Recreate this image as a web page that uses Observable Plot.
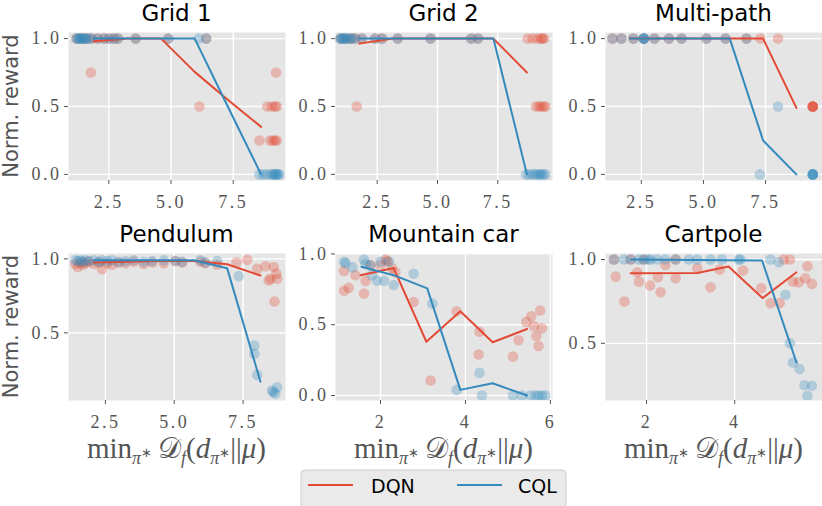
<!DOCTYPE html>
<html><head><meta charset="utf-8">
<script src="https://cdn.jsdelivr.net/npm/d3@7"></script>
<script src="https://cdn.jsdelivr.net/npm/@observablehq/plot@0.6"></script>
<style>
body{margin:0;background:#fff;}
#root{position:relative;width:822px;height:506px;overflow:hidden;background:#fff;}
#overlay{position:absolute;left:0;top:0;pointer-events:none;}
</style></head>
<body><div id="root"></div>
<script>
const RED = "#E24A33", BLUE = "#348ABD";

// ---- Grid 1 ----
const grid1_dqn_pts = [[1.2,1],[1.4,1],[1.6,1],[1.8,1],[2.05,1],[2.31,1],[2.51,1],[2.71,1],[2.87,1],[3.58,1],[4.89,1],[6.41,1],
  [1.78,0.75],[6.14,0.5],[9.22,0.75],[8.87,0.5],[9.05,0.5],[9.18,0.5],[9.25,0.5],[8.55,0.25],[8.98,0.25],[9.09,0.25],[9.18,0.25],[9.25,0.25]];
const grid1_cql_pts = [[1.2,1],[1.25,1],[1.3,1],[1.35,1],[1.4,1],[1.45,1],[1.5,1],[1.55,1],[1.6,1],[1.7,1],[1.8,1],[2.05,1],[2.31,1],[2.51,1],[2.71,1],[2.87,1],[3.58,1],[4.89,1],[6.12,1],[6.41,1],
  [8.55,0],[8.7,0],[8.85,0],[9.0,0],[9.1,0],[9.15,0],[9.2,0],[9.25,0],[9.3,0],[9.35,0]];
const grid1_dqn_line = [[1.9,0.98],[3.25,1],[4.6,1],[5.95,0.755],[7.28,0.55],[8.62,0.35]];
const grid1_cql_line = [[1.9,1],[3.25,1],[4.6,1],[5.95,1],[7.28,0.5],[8.62,0]];

// ---- Grid 2 ----
const grid2_dqn_pts = [[1.0,1],[1.2,1],[1.4,1],[1.58,1],[1.86,1],[2.42,1],[2.70,1],[3.35,1],[4.71,1],[6.40,1],[6.68,1],
  [8.74,1],[8.95,1],[9.15,1],[9.29,1],[9.36,1],[9.42,1],[1.65,0.5],[9.08,0.5],[9.2,0.5],[9.3,0.5],[9.4,0.5],[9.48,0.5]];
const grid2_cql_pts = [[0.96,1],[1.0,1],[1.05,1],[1.1,1],[1.15,1],[1.2,1],[1.3,1],[1.4,1],[1.45,1],[1.58,1],[1.86,1],[2.42,1],[2.70,1],[3.35,1],[4.71,1],[6.40,1],[6.68,1],
  [8.67,0],[8.8,0],[8.95,0],[9.05,0],[9.15,0],[9.25,0],[9.3,0],[9.4,0],[9.48,0]];
const grid2_dqn_line = [[1.76,0.963],[3.15,1],[4.54,1],[5.93,1],[7.32,1],[8.71,0.75]];
const grid2_cql_line = [[1.76,1],[3.15,1],[4.54,1],[5.93,1],[7.32,1],[8.71,0]];

// ---- Multi-path ----
const multi_dqn_pts = [[1.34,1],[1.70,1],[2.18,1],[2.6,1],[3.03,1],[3.61,1],[4.12,1],[5.12,1],[5.89,1],[6.73,1],[7.29,1],[8.0,1],
  [9.4,0.5],[9.4,0.5],[9.4,0.5],[9.4,0.5],[9.4,0.5]];
const multi_cql_pts = [[1.34,1],[1.70,1],[2.18,1],[2.6,1],[2.6,1],[2.6,1],[2.6,1],[3.03,1],[3.61,1],[4.12,1],[5.12,1],[5.89,1],[6.73,1],
  [8.0,0.5],[7.27,0],[9.4,0],[9.4,0],[9.4,0],[9.4,0],[9.4,0]];
const multi_dqn_line = [[2.04,1],[3.38,1],[4.72,1],[6.06,1],[7.40,1],[8.74,0.49]];
const multi_cql_line = [[2.04,1],[3.38,1],[4.72,1],[6.06,1],[7.40,0.25],[8.74,0]];

// ---- Pendulum ----
const pend_dqn_pts = [[1.41,0.965],[1.5,0.945],[1.59,0.975],[1.68,0.96],[1.77,0.97],[1.89,0.98],[2.08,0.965],[2.26,0.975],[2.38,0.93],[2.56,0.97],[2.74,0.96],[2.98,0.975],[3.23,0.97],[3.53,0.98],[3.89,0.965],[4.2,0.975],[4.62,0.97],[5.04,0.985],[5.29,0.975],[5.95,0.98],[6.13,0.97],[6.56,0.96],
  [7.26,0.977],[7.65,0.993],[8.01,0.932],[8.31,0.95],[8.61,0.944],[8.49,0.865],[8.74,0.865],[8.43,0.854],[8.64,0.712],[8.71,0.9]];
const pend_cql_pts = [[1.41,0.99],[1.5,0.985],[1.59,0.99],[1.68,0.98],[1.77,0.99],[1.89,0.985],[2.08,0.99],[2.26,0.98],[2.38,0.99],[2.56,0.985],[2.74,0.99],[2.98,0.98],[3.23,0.985],[3.53,0.99],[3.89,0.98],[4.2,0.985],[4.62,0.99],[5.04,0.985],[5.29,0.98],[5.95,0.99],[6.13,0.975],[6.56,0.985],
  [7.34,0.883],[7.91,0.414],[7.91,0.358],[8.01,0.216],[8.55,0.11],[8.67,0.088],[8.74,0.133],[8.6,0.1]];
const pend_dqn_line = [[2.08,0.975],[3.29,0.98],[4.5,0.985],[5.71,0.985],[6.92,0.963],[8.13,0.887]];
const pend_cql_line = [[2.08,0.99],[3.29,0.99],[4.5,0.99],[5.71,0.99],[6.92,0.937],[8.13,0.17]];

// ---- Mountain car ----
const mc_dqn_pts = [[1.14,0.88],[1.14,0.74],[1.25,0.76],[1.41,0.85],[1.61,0.72],[1.65,0.81],[1.76,0.92],[2.0,0.92],[2.12,0.96],[2.16,0.95],[2.27,0.90],[2.35,0.87],[2.78,0.66],[3.18,0.106],[3.79,0.595],[4.33,0.45],[4.31,0.29],[5.12,0.275],[5.25,0.39],[5.43,0.52],[5.55,0.56],[5.61,0.49],[5.67,0.42],[5.72,0.35],[5.76,0.60],[5.80,0.475]];
const mc_cql_pts = [[1.14,0.945],[1.18,0.935],[1.34,0.905],[1.61,0.96],[1.65,0.93],[1.76,0.92],[1.80,0.85],[1.92,0.81],[2.0,0.945],[2.08,0.81],[2.20,0.945],[2.31,0.78],[2.78,0.86],[3.22,0.65],[3.79,0.04],[4.33,0.16],[4.39,0],[5.12,0],[5.33,0],[5.53,0],[5.65,0],[5.72,0],[5.80,0],[5.88,0]];
const mc_dqn_line = [[1.53,0.85],[2.31,0.90],[3.08,0.38],[3.88,0.595],[4.64,0.376],[5.45,0.47]];
const mc_cql_line = [[1.55,0.91],[2.31,0.85],[3.10,0.757],[3.88,0.04],[4.64,0.087],[5.45,0.0]];

// ---- Cartpole ----
const cart_dqn_pts = [[1.26,1],[1.64,1],[1.94,1],[2.66,1],[1.30,0.898],[1.50,0.749],[1.79,0.924],[1.83,0.868],[2.08,0.845],[2.26,0.894],[2.32,0.805],[2.43,0.968],[2.66,0.888],[3.15,0.948],[3.45,0.835],[3.66,0.94],[4.19,0.934],[4.60,0.829],[4.81,0.74],[5.02,0.74],[5.11,1],[5.25,1],[5.32,0.868],[5.45,0.864],[5.60,0.888],[5.65,0.96],[5.75,0.855]];
const cart_cql_pts = [[1.26,1],[1.49,1],[1.64,1],[1.83,1],[1.94,1],[2.03,1],[2.09,1],[2.24,1],[2.43,1],[2.66,1],[2.96,1],[3.15,1],[3.45,1],[3.71,1],[4.09,1],[4.13,1],[4.81,1],[5.0,0.984],[5.15,0.79],[5.25,0.5],[5.32,0.386],[5.47,0.347],[5.58,0.25],[5.75,0.247],[5.65,0.187]];
const cart_dqn_line = [[1.64,0.918],[3.15,0.92],[3.86,0.958],[4.63,0.77],[5.40,0.924]];
const cart_cql_line = [[1.64,1],[4.62,0.994],[5.40,0.386]];

const titles = ["Grid 1","Grid 2","Multi-path","Pendulum","Mountain car","Cartpole"];
const legendLabels = ["DQN","CQL"];

const panels = [
  {title:titles[0], left:68,  top:32,  w:217, h:148, xd:[0.88,9.6],  yd:[-0.045,1.045], xt:[2.5,5,7.5], yt:[0,0.5,1], xf:".1f", dqn:grid1_dqn_pts, cql:grid1_cql_pts, dl:grid1_dqn_line, cl:grid1_cql_line},
  {title:titles[1], left:335, top:32,  w:217, h:148, xd:[0.77,9.77], yd:[-0.045,1.045], xt:[2.5,5,7.5], yt:[0,0.5,1], xf:".1f", dqn:grid2_dqn_pts, cql:grid2_cql_pts, dl:grid2_dqn_line, cl:grid2_cql_line},
  {title:titles[2], left:605, top:32,  w:217, h:148, xd:[1.06,9.79], yd:[-0.045,1.045], xt:[2.5,5,7.5], yt:[0,0.5,1], xf:".1f", dqn:multi_dqn_pts, cql:multi_cql_pts, dl:multi_dqn_line, cl:multi_cql_line},
  {title:titles[3], left:68,  top:253, w:217, h:147, xd:[1.16,9.04], yd:[0.043,1.036],  xt:[2.5,5,7.5], yt:[0.5,1],   xf:".1f", dqn:pend_dqn_pts, cql:pend_cql_pts, dl:pend_dqn_line, cl:pend_cql_line},
  {title:titles[4], left:335, top:253, w:217, h:147, xd:[0.94,6.05], yd:[-0.035,1.003], xt:[2,4,6],     yt:[0,0.5,1], xf:"d",   dqn:mc_dqn_pts, cql:mc_cql_pts, dl:mc_dqn_line, cl:mc_cql_line},
  {title:titles[5], left:605, top:253, w:217, h:147, xd:[1.07,5.99], yd:[0.159,1.036],  xt:[2,4],       yt:[0.5,1],   xf:"d",   dqn:cart_dqn_pts, cql:cart_cql_pts, dl:cart_dqn_line, cl:cart_cql_line},
];

const root = document.getElementById("root");
const mL = 50, mR = 2, mT = 2, mB = 34;
for (const p of panels) {
  const fx = d3.format(p.xf), fy = d3.format(".1f");
  const svg = Plot.plot({
    width: p.w + mL + mR, height: p.h + mT + mB,
    marginLeft: mL, marginRight: mR, marginTop: mT, marginBottom: mB,
    x: {domain: p.xd},
    y: {domain: p.yd},
    style: {fontFamily: "Liberation Serif", fontSize: "18px", letterSpacing: "2.5px", color: "#555", overflow: "visible"},
    marks: [
      Plot.frame({fill: "#E5E5E5", stroke: null}),
      Plot.gridX(p.xt, {stroke: "white", strokeOpacity: 1, strokeWidth: 1.4}),
      Plot.gridY(p.yt, {stroke: "white", strokeOpacity: 1, strokeWidth: 1.4}),
      Plot.axisX(p.xt, {tickSize: 4, tickPadding: 11, tickFormat: fx, label: null, stroke: "#555"}),
      Plot.axisY(p.yt, {tickSize: 4, tickPadding: 3, tickFormat: fy, label: null, stroke: "#555"}),
      Plot.dot(p.dqn, {x: d => d[0], y: d => d[1], r: 5.3, fill: RED, fillOpacity: 0.3, stroke: null, clip: true}),
      Plot.dot(p.cql, {x: d => d[0], y: d => d[1], r: 5.3, fill: BLUE, fillOpacity: 0.3, stroke: null, clip: true}),
      Plot.line(p.dl, {x: d => d[0], y: d => d[1], stroke: RED, strokeWidth: 2}),
      Plot.line(p.cl, {x: d => d[0], y: d => d[1], stroke: BLUE, strokeWidth: 2}),
    ]
  });
  svg.style.position = "absolute";
  svg.style.left = (p.left - mL) + "px";
  svg.style.top = (p.top - mT) + "px";
  root.appendChild(svg);
}

// overlay with titles, axis labels, legend
const NS = "http://www.w3.org/2000/svg";
const ov = document.createElementNS(NS, "svg");
ov.setAttribute("id", "overlay");
ov.setAttribute("width", 822); ov.setAttribute("height", 506);
root.appendChild(ov);
function txt(attrs, content) {
  const t = document.createElementNS(NS, "text");
  for (const k in attrs) t.setAttribute(k, attrs[k]);
  if (content != null) t.textContent = content;
  ov.appendChild(t); return t;
}
for (const p of panels) {
  txt({x: p.left + p.w / 2, y: p.top - 11, "text-anchor": "middle", "font-family": "DejaVu Sans", "font-size": 23, fill: "#000"}, p.title);
}
for (const cy of [106, 326.5]) {
  txt({transform: `translate(18,${cy}) rotate(-90)`, "text-anchor": "middle", "font-family": "DejaVu Sans", "font-size": 21, fill: "#555"}, "Norm. reward");
}
function xlabel(cx, y) {
  const t = txt({x: cx, y: y, "text-anchor": "middle", "font-family": "Liberation Serif", "font-size": 29, fill: "#555"});
  const parts = [
    ["min", {}],
    ["π", {"font-size": 18, "font-style": "italic", dy: 6}],
    ["∗", {"font-size": 13, dy: -7}],
    ["\u2009𝒟", {"font-size": 29, dy: 1}],
    ["f", {"font-size": 18, "font-style": "italic", dy: 6}],
    ["(", {"font-size": 29, dy: -6}],
    ["d", {"font-size": 29, "font-style": "italic"}],
    ["π", {"font-size": 18, "font-style": "italic", dy: 6}],
    ["∗", {"font-size": 13, dy: -7}],
    ["||", {"font-size": 29, dy: 1}],
    ["μ", {"font-size": 29, "font-style": "italic"}],
    [")", {"font-size": 29}],
  ];
  for (const [s, a] of parts) {
    const ts = document.createElementNS(NS, "tspan");
    for (const k in a) ts.setAttribute(k, a[k]);
    ts.textContent = s; t.appendChild(ts);
  }
}
for (const p of panels.slice(3)) xlabel(p.left + p.w / 2, 458);

// legend
const lg = document.createElementNS(NS, "rect");
Object.entries({x: 301, y: 470, width: 265, height: 38, rx: 4, fill: "#EAEAEA", stroke: "#CCCCCC", "stroke-width": 1}).forEach(([k, v]) => lg.setAttribute(k, v));
ov.appendChild(lg);
[[RED, 308, 371, legendLabels[0]], [BLUE, 457, 518, legendLabels[1]]].forEach(([c, lx, tx, lab]) => {
  const l = document.createElementNS(NS, "line");
  Object.entries({x1: lx, x2: lx + 45, y1: 485, y2: 485, stroke: c, "stroke-width": 2}).forEach(([k, v]) => l.setAttribute(k, v));
  ov.appendChild(l);
  txt({x: tx, y: 493, "font-family": "DejaVu Sans", "font-size": 19, fill: "#000"}, lab);
});
</script>
</body></html>
